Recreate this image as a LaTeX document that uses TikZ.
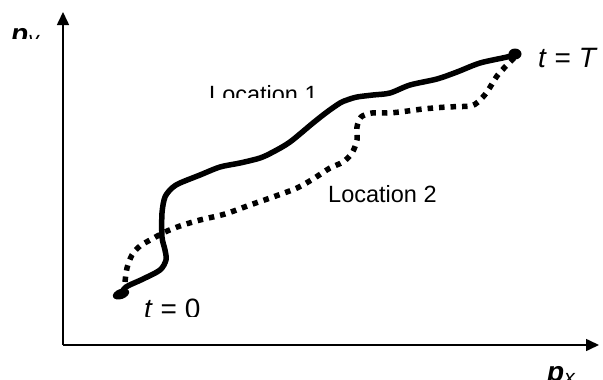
\documentclass[tikz,border=0pt]{standalone}
\usepackage{fontspec}
\setmainfont{Liberation Sans}
\usetikzlibrary{arrows.meta,shapes.geometric}
\begin{document}
\begin{tikzpicture}[x=1pt,y=-1pt,
  axis/.style={line width=1.6pt,-{Triangle[length=13pt,width=12pt]}},
  path1/.style={line width=5.5pt,line cap=round,line join=round},
  path2/.style={line width=5.5pt,dash pattern=on 5.5pt off 6pt},
  enddot/.style={ellipse,fill=black,inner sep=0pt},
  lbl/.style={inner sep=0pt,anchor=base west},
  bigf/.style={font=\fontsize{28}{32}\selectfont},
  locf/.style={font=\fontsize{23.5}{27}\selectfont}]
\useasboundingbox (0,0) rectangle (603,380);
\clip (0,0) rectangle (603,380);
% axes
\coordinate (o) at (63,345);
\coordinate (ytop) at (63,12);
\coordinate (xend) at (599,345);
\draw[axis] (o) -- (ytop);
\draw[axis] (o) -- (xend);
% end dots
\node[enddot,minimum width=17pt,minimum height=10pt,rotate=20] (s) at (121,294) {};
\node[enddot,minimum width=13pt,minimum height=11pt] (e) at (515,54) {};
% location 1 (solid)
\draw[path1] plot[smooth,tension=0.5] coordinates {
(121,294) (126,287) (143,279) (160,270) (166,260) (165,250) (162,237) (162,213) (165,197) (172,188) (180,183) (200,175) (220,167) (240,163) (260,158) (273,152) (290,142) (313,123) (327,112) (340,103) (347,100) (357,97) (373,95) (390,93) (410,85) (437,79) (457,72) (480,63) (507,57) (515,54)};
% location 2 (dotted)
\draw[path2] plot[smooth,tension=0.5] coordinates {
(125,282) (127,268) (132,255) (140,246) (152,239) (165,232) (180,226) (200,220) (225,214) (250,205) (273,197) (297,188) (313,179) (330,168) (343,162) (352,153) (357,140) (357,127) (361,117) (372,113) (387,113) (400,112) (423,109) (447,107) (470,106) (478,102) (487,92) (497,76) (507,65) (515,57)};
% labels
\begin{scope}
\clip (0,0) rectangle (60,38);
\node[lbl,bigf] (py) at (11,43) {\textbf{\textit{p}}\raisebox{-3pt}{\fontsize{21}{24}\selectfont\textit{y}}};
\end{scope}
\node[lbl,bigf] (tT) at (538,67) {\textit{t} = \textit{T}};
\begin{scope}
\clip (130,280) rectangle (230,316);
\node[lbl,bigf] (t0) at (144,318) {\textit{t} = 0};
\end{scope}
\begin{scope}
\clip (190,70) rectangle (330,97);
\node[lbl,locf] (l1) at (209,102) {Location 1};
\end{scope}
\node[lbl,locf] (l2) at (328,202) {Location 2};
\node[lbl,bigf] (px) at (547,381) {\textbf{\textit{p}}\raisebox{-3pt}{\fontsize{21}{24}\selectfont\textit{x}}};
\end{tikzpicture}
\end{document}
